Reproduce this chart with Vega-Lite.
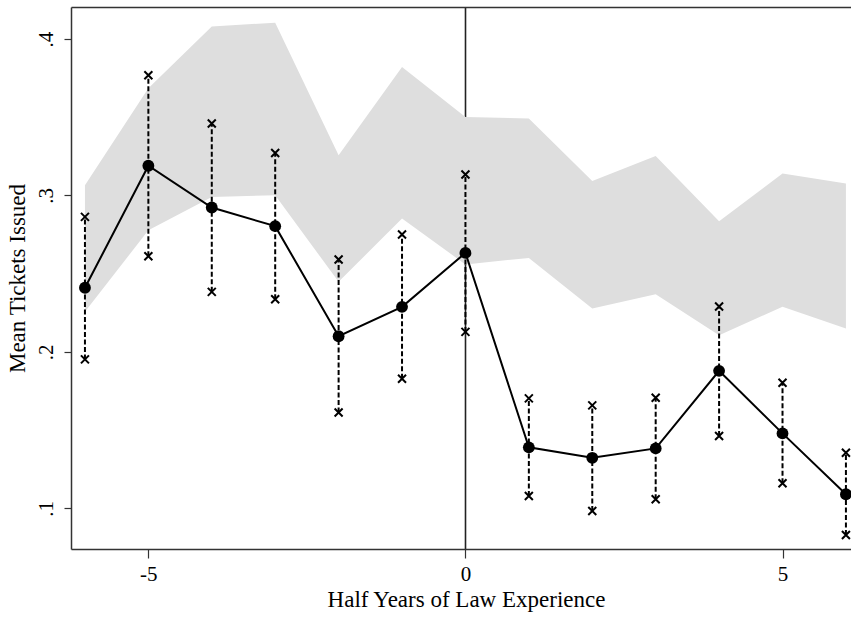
{
  "$schema": "https://vega.github.io/schema/vega-lite/v6.json",
  "width": 780,
  "height": 542,
  "autosize": {"type": "none"},
  "padding": {"left": 71, "top": 7, "right": 0, "bottom": 69},
  "background": "white",
  "config": {
    "view": {"stroke": null},
    "font": "Liberation Serif",
    "axis": {
      "labelFont": "Liberation Serif",
      "titleFont": "Liberation Serif",
      "labelFontSize": 21,
      "titleFontSize": 23,
      "titleFontWeight": "normal",
      "labelColor": "black",
      "titleColor": "black",
      "domainColor": "#333",
      "domainWidth": 1.5,
      "tickColor": "#333",
      "tickWidth": 1.2,
      "grid": false
    }
  },
  "data": {
    "values": [
      {"x": -6, "m": 0.241, "hi": 0.2863, "lo": 0.1952, "bhi": 0.3066, "blo": 0.2256},
      {"x": -5, "m": 0.319, "hi": 0.3769, "lo": 0.2612, "bhi": 0.3685, "blo": 0.2778},
      {"x": -4, "m": 0.2923, "hi": 0.346, "lo": 0.2384, "bhi": 0.408, "blo": 0.2991},
      {"x": -3, "m": 0.2804, "hi": 0.3272, "lo": 0.2337, "bhi": 0.4105, "blo": 0.3002},
      {"x": -2, "m": 0.21, "hi": 0.2591, "lo": 0.1613, "bhi": 0.3258, "blo": 0.2448},
      {"x": -1, "m": 0.2288, "hi": 0.2751, "lo": 0.1828, "bhi": 0.3822, "blo": 0.2853},
      {"x": 0, "m": 0.2633, "hi": 0.3134, "lo": 0.2128, "bhi": 0.3502, "blo": 0.2559},
      {"x": 1, "m": 0.139, "hi": 0.1703, "lo": 0.1079, "bhi": 0.3492, "blo": 0.2601},
      {"x": 2, "m": 0.1323, "hi": 0.1658, "lo": 0.0983, "bhi": 0.3093, "blo": 0.2278},
      {"x": 3, "m": 0.1383, "hi": 0.1707, "lo": 0.1058, "bhi": 0.3253, "blo": 0.2369},
      {"x": 4, "m": 0.1879, "hi": 0.229, "lo": 0.1462, "bhi": 0.2836, "blo": 0.2107},
      {"x": 5, "m": 0.1479, "hi": 0.1803, "lo": 0.116, "bhi": 0.314, "blo": 0.2288},
      {"x": 6, "m": 0.109, "hi": 0.1355, "lo": 0.083, "bhi": 0.3077, "blo": 0.215}
    ]
  },
  "resolve": {"axis": {"x": "independent", "y": "independent"}},
  "layer": [
    {
      "mark": {"type": "area", "fill": "#dedede", "fillOpacity": 1, "opacity": 1},
      "encoding": {
        "x": {"field": "x", "type": "quantitative", "scale": {"domain": [-6.22, 6.08], "nice": false, "zero": false}, "axis": {"orient": "top", "values": [0], "labels": false, "ticks": false, "title": null, "domain": true, "grid": true, "gridColor": "#222", "gridWidth": 1.6, "gridOpacity": 1, "zindex": 0}},
        "y": {"field": "blo", "type": "quantitative", "scale": {"domain": [0.074, 0.4205], "nice": false, "zero": false}, "axis": null},
        "y2": {"field": "bhi"}
      }
    },
    {
      "mark": {"type": "rule", "color": "black", "strokeWidth": 2, "strokeDash": [5, 2.5]},
      "encoding": {
        "x": {"field": "x", "type": "quantitative", "axis": null},
        "y": {"field": "lo", "type": "quantitative", "axis": null},
        "y2": {"field": "hi"}
      }
    },
    {
      "mark": {"type": "point", "shape": "M-1,-1L1,1M-1,1L1,-1", "filled": false, "stroke": "black", "strokeWidth": 2, "size": 64, "opacity": 1},
      "encoding": {
        "x": {"field": "x", "type": "quantitative", "axis": null},
        "y": {"field": "hi", "type": "quantitative", "axis": null}
      }
    },
    {
      "mark": {"type": "point", "shape": "M-1,-1L1,1M-1,1L1,-1", "filled": false, "stroke": "black", "strokeWidth": 2, "size": 64, "opacity": 1},
      "encoding": {
        "x": {"field": "x", "type": "quantitative", "axis": null},
        "y": {"field": "lo", "type": "quantitative", "axis": null}
      }
    },
    {
      "mark": {"type": "line", "color": "black", "strokeWidth": 2},
      "encoding": {
        "x": {"field": "x", "type": "quantitative", "axis": {"values": [-5, 0, 5], "title": "Half Years of Law Experience", "labelFont": "Liberation Serif", "titleFont": "Liberation Serif", "labelFontSize": 21, "titleFontSize": 23, "tickSize": 9, "labelPadding": 5, "titlePadding": 4, "titleX": 395, "labelExpr": "datum.value < 0 ? '-' + abs(datum.value) : '' + datum.value"}},
        "y": {"field": "m", "type": "quantitative", "axis": {"values": [0.1, 0.2, 0.3, 0.4], "title": "Mean Tickets Issued", "labelFont": "Liberation Serif", "titleFont": "Liberation Serif", "labelFontSize": 21, "titleFontSize": 23, "tickSize": 7, "labelAngle": -90, "labelAlign": "center", "labelBaseline": "bottom", "labelPadding": 8, "titlePadding": 6, "labelExpr": "replace(format(datum.value, '.1f'), '0.', '.')"}}
      }
    },
    {
      "mark": {"type": "circle", "color": "black", "size": 140, "opacity": 1},
      "encoding": {
        "x": {"field": "x", "type": "quantitative", "axis": null},
        "y": {"field": "m", "type": "quantitative", "axis": null}
      }
    }
  ]
}
